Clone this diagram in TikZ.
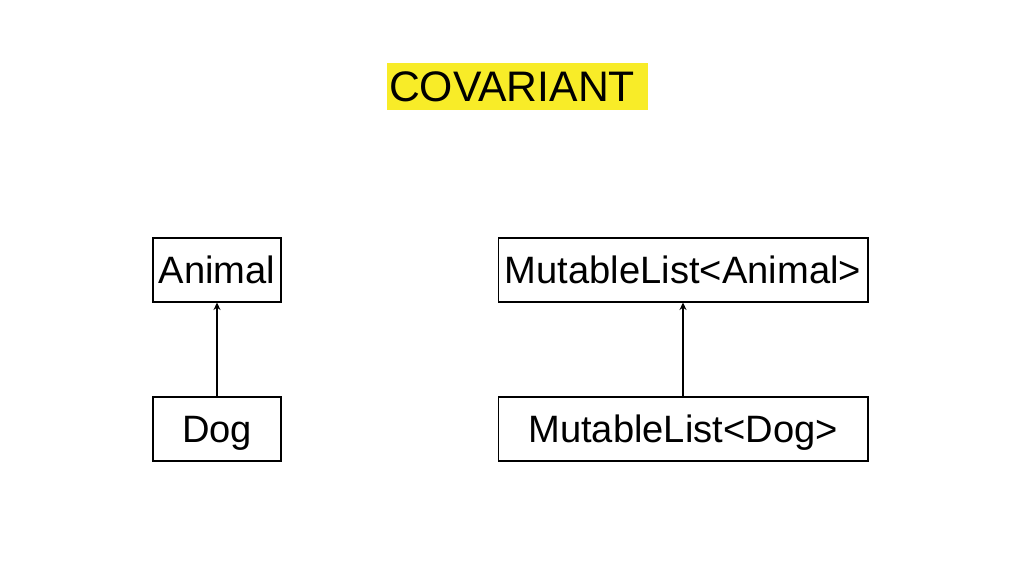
\documentclass[tikz,border=0pt]{standalone}
\usepackage{fontspec}
\setmainfont{Liberation Sans}
\usetikzlibrary{arrows.meta}
\begin{document}
\begin{tikzpicture}[x=0.02cm,y=0.02cm,
        typebox/.style={draw, line width=0.6pt, minimum height=1.28cm, inner sep=0pt, text depth=0pt,
                        font=\fontsize{21.7}{26}\selectfont},
        subarrow/.style={-{Stealth[length=0.15cm,width=0.14cm]}, line width=0.6pt}]
        % Define colors
        \definecolor{titlecolor}{RGB}{248,236,40}

        % Fix the page size
        \useasboundingbox (0,0) rectangle (1024,576);

        % Draw title
        \node[fill=titlecolor, minimum width=5.22cm, minimum height=0.94cm, inner xsep=0.04cm,
              text width=5.14cm, align=left, font=\fontsize{24.3}{29}\selectfont] (title) at (517.5,489.5) {COVARIANT};

        % Draw type boxes
        \node[typebox, minimum width=2.56cm] (animal) at (217,306) {Animal};
        \node[typebox, minimum width=2.56cm] (dog) at (217,147) {Dog};
        \node[typebox, minimum width=7.4cm] (listanimal) at (683,306) {MutableList<Animal>};
        \node[typebox, minimum width=7.4cm] (listdog) at (683,147) {MutableList<Dog>};

        % Draw subtype arrows
        \draw[subarrow] (dog) -- (animal);
        \draw[subarrow] (listdog) -- (listanimal);
    \end{tikzpicture}
\end{document}
